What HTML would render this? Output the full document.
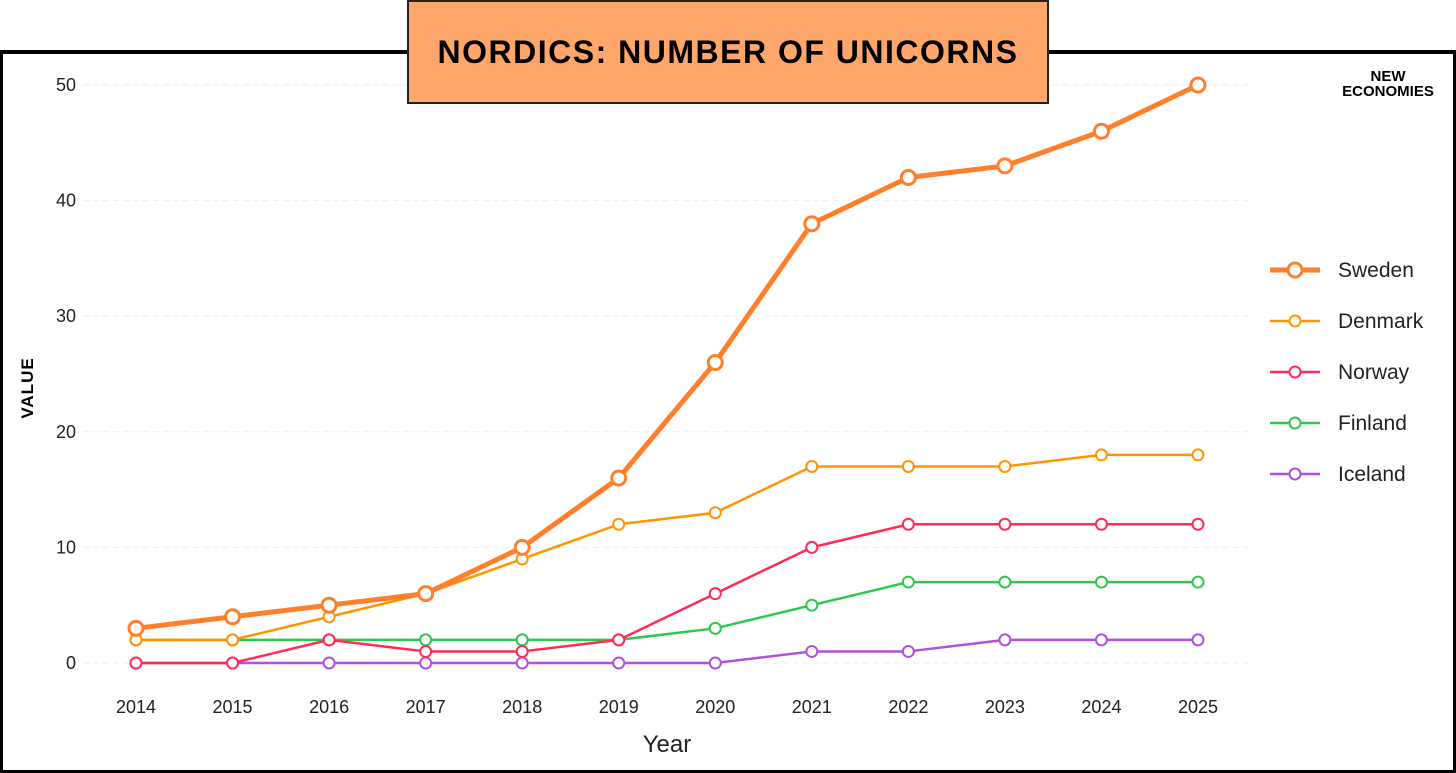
<!DOCTYPE html>
<html><head><meta charset="utf-8"><style>
html,body{margin:0;padding:0;background:#fff;}
body{width:1456px;height:772px;position:relative;overflow:hidden;font-family:"Liberation Sans",sans-serif;}
</style></head><body>
<div style="position:absolute;left:0;top:50px;width:1450px;height:716px;border:3px solid #000;border-top-width:4px;"></div>
<svg id="chart" width="1456" height="772" style="position:absolute;left:0;top:0">
<g id="grid"></g><g id="series"></g><g id="axes"></g><g id="legend"></g>
</svg>
<div style="position:absolute;left:407px;top:0;width:638px;height:100px;background:#FFA66B;border:2px solid #222;display:flex;align-items:center;justify-content:center;font-family:'Liberation Sans',sans-serif;font-weight:bold;font-size:32px;letter-spacing:1.5px;white-space:nowrap;color:#000;">NORDICS: NUMBER OF UNICORNS</div>
<div style="position:absolute;left:1330px;top:69px;width:116px;text-align:center;font-family:'Liberation Sans',sans-serif;font-weight:bold;font-size:15px;line-height:15px;">NEW<br>ECONOMIES</div>
<script>
const years = [2014,2015,2016,2017,2018,2019,2020,2021,2022,2023,2024,2025];
const sweden = [3,4,5,6,10,16,26,38,42,43,46,50];
const denmark = [2,2,4,6,9,12,13,17,17,17,18,18];
const norway = [0,0,2,1,1,2,6,10,12,12,12,12];
const finland = [2,2,2,2,2,2,3,5,7,7,7,7];
const iceland = [0,0,0,0,0,0,0,1,1,2,2,2];
const yTicks = [0,10,20,30,40,50];
const seriesNames = ["Sweden","Denmark","Norway","Finland","Iceland"];
const seriesData = [sweden,denmark,norway,finland,iceland];
const colors = ["#FF7F2A","#FF9500","#FF2D55","#2DC84D","#AF52DE"];
const NS="http://www.w3.org/2000/svg";
const X0=136,X1=1198,Y0=663,Y1=85;
function xs(i){return X0+(X1-X0)*i/(years.length-1);}
function ys(v){return Y0-(Y0-Y1)*v/50;}
function mk(tag,attrs,parent){const e=document.createElementNS(NS,tag);for(const k in attrs)e.setAttribute(k,attrs[k]);parent.appendChild(e);return e;}
const grid=document.getElementById('grid'),axes=document.getElementById('axes'),ser=document.getElementById('series'),leg=document.getElementById('legend');
yTicks.forEach(t=>{
  const l=mk('line',{x1:83,x2:1248,y1:ys(t),y2:ys(t),stroke:'#eee','stroke-dasharray':'6,4'},grid);
  
  
  const tx=mk('text',{x:76,y:ys(t)+6,'text-anchor':'end','font-size':18,fill:'#222'},axes);
  tx.textContent=t;
  
  
});
years.forEach((y,i)=>{
  const tx=mk('text',{x:xs(i),y:713,'text-anchor':'middle','font-size':18,fill:'#222'},axes);
  tx.textContent=y;
  
  
});
const xt=mk('text',{x:667,y:752,'text-anchor':'middle','font-size':24,fill:'#222'},axes);
xt.textContent='Year';


const yt=mk('text',{x:0,y:0,'text-anchor':'middle','font-size':17,'font-weight':'bold','font-family':'Liberation Sans, sans-serif','letter-spacing':1,fill:'#000',transform:'translate(33,388) rotate(-90)'},axes);
yt.textContent='VALUE';


for(let s=seriesData.length-1;s>=0;s--){
  const d=seriesData[s],c=colors[s],thick=s===0;
  const g=mk('g',{},ser);
  
  
  const p=mk('polyline',{points:d.map((v,i)=>xs(i)+','+ys(v)).join(' '),fill:'none',stroke:c,'stroke-width':thick?5:2.5,'stroke-linejoin':'round'},g);
  d.forEach((v,i)=>{
    const pt=mk('circle',{cx:xs(i),cy:ys(v),r:thick?7:5.5,fill:'#fff',stroke:c,'stroke-width':thick?3:2},g);
    
    
  });
}
seriesNames.forEach((n,s)=>{
  const y=270+s*51,c=colors[s],thick=s===0;
  const g=mk('g',{},leg);
  
  
  mk('line',{x1:1270,x2:1320,y1:y,y2:y,stroke:c,'stroke-width':thick?5:2.5},g);
  mk('circle',{cx:1295,cy:y,r:thick?7:5.5,fill:'#fff',stroke:c,'stroke-width':thick?3:2},g);
  const t=mk('text',{x:1338,y:y+7,'font-size':21,fill:'#222'},g);
  t.textContent=n;
});
</script>
</body></html>
